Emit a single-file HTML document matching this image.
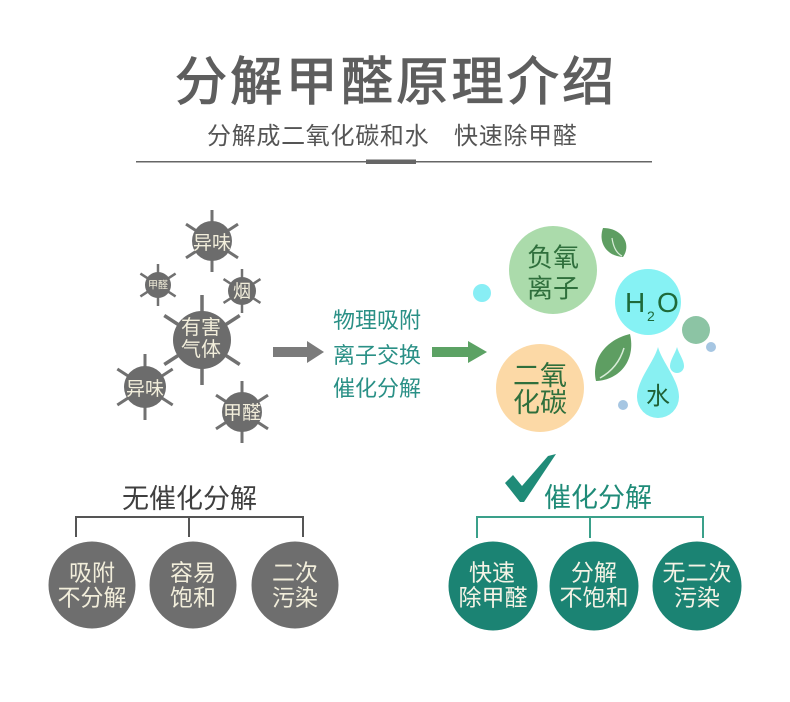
<!DOCTYPE html>
<html><head><meta charset="utf-8">
<style>
html,body{margin:0;padding:0;background:#fff;}
svg{display:block;}
text{font-family:"Liberation Sans","Noto Sans CJK SC",sans-serif;}
</style></head><body>
<svg width="790" height="702" viewBox="0 0 790 702" xmlns="http://www.w3.org/2000/svg">
<rect width="790" height="702" fill="#fff"/>

<!-- Title -->
<text x="175" y="100" font-size="52" fill="#5e5e5e" stroke="#5e5e5e" stroke-width="1.2" letter-spacing="3.3">分解甲醛原理介绍</text>
<text x="207" y="144" font-size="24" fill="#555" letter-spacing="0.7">分解成二氧化碳和水　快速除甲醛</text>
<rect x="136" y="161" width="516" height="1.5" fill="#666"/>
<rect x="366" y="159.5" width="50" height="4.5" fill="#666"/>

<!-- Left cluster: spikes -->
<g stroke="#717171" stroke-linecap="butt">
  <g transform="translate(202,340)" stroke-width="3.5">
    <line x1="0" y1="-45" x2="0" y2="45"/>
    <line x1="0" y1="-45" x2="0" y2="45" transform="rotate(57)"/>
    <line x1="0" y1="-45" x2="0" y2="45" transform="rotate(-57)"/>
  </g>
  <g transform="translate(212,241)" stroke-width="3">
    <line x1="0" y1="-31" x2="0" y2="31"/>
    <line x1="0" y1="-31" x2="0" y2="31" transform="rotate(57)"/>
    <line x1="0" y1="-31" x2="0" y2="31" transform="rotate(-57)"/>
  </g>
  <g transform="translate(158,285)" stroke-width="2.5">
    <line x1="0" y1="-21" x2="0" y2="21"/>
    <line x1="0" y1="-21" x2="0" y2="21" transform="rotate(57)"/>
    <line x1="0" y1="-21" x2="0" y2="21" transform="rotate(-57)"/>
  </g>
  <g transform="translate(242,291)" stroke-width="2.5">
    <line x1="0" y1="-22" x2="0" y2="22"/>
    <line x1="0" y1="-22" x2="0" y2="22" transform="rotate(57)"/>
    <line x1="0" y1="-22" x2="0" y2="22" transform="rotate(-57)"/>
  </g>
  <g transform="translate(145,387)" stroke-width="3">
    <line x1="0" y1="-33" x2="0" y2="33"/>
    <line x1="0" y1="-33" x2="0" y2="33" transform="rotate(57)"/>
    <line x1="0" y1="-33" x2="0" y2="33" transform="rotate(-57)"/>
  </g>
  <g transform="translate(242,412)" stroke-width="3">
    <line x1="0" y1="-31" x2="0" y2="31"/>
    <line x1="0" y1="-31" x2="0" y2="31" transform="rotate(57)"/>
    <line x1="0" y1="-31" x2="0" y2="31" transform="rotate(-57)"/>
  </g>
</g>
<g fill="#6c6c6c">
  <circle cx="202" cy="340" r="29"/>
  <circle cx="212" cy="241" r="20"/>
  <circle cx="158" cy="285" r="13"/>
  <circle cx="242" cy="291" r="14"/>
  <circle cx="145" cy="387" r="21"/>
  <circle cx="242" cy="412" r="20"/>
</g>
<g fill="#f2eedb" text-anchor="middle">
  <text x="201" y="334" font-size="20">有害</text>
  <text x="201" y="356" font-size="20">气体</text>
  <text x="212" y="249" font-size="19">异味</text>
  <text x="158" y="288.6" font-size="10">甲醛</text>
  <text x="242" y="297.5" font-size="18">烟</text>
  <text x="145" y="395" font-size="19">异味</text>
  <text x="242" y="419" font-size="19">甲醛</text>
</g>

<!-- Arrows -->
<rect x="273" y="347" width="36" height="10" fill="#7b7b7b"/>
<polygon points="307,341 324,352 307,363" fill="#7b7b7b"/>
<rect x="432" y="347" width="38" height="10" fill="#5ca264"/>
<polygon points="468,341 487,352 468,363" fill="#5ca264"/>

<!-- Middle text -->
<g fill="#2a9086" font-size="22" text-anchor="middle">
  <text x="377" y="328">物理吸附</text>
  <text x="377" y="363">离子交换</text>
  <text x="377" y="396">催化分解</text>
</g>

<!-- Right cluster -->
<circle cx="482" cy="293" r="9" fill="#88eef5"/>
<circle cx="553" cy="270" r="44" fill="#abdbab"/>
<circle cx="540" cy="388" r="44" fill="#fcd9a6"/>
<circle cx="648" cy="302" r="33" fill="#86f2f4"/>
<circle cx="696" cy="330" r="14" fill="#8cc4a4"/>
<circle cx="711" cy="347" r="5" fill="#a6c6e2"/>
<circle cx="623" cy="405" r="5" fill="#a6c6e2"/>

<!-- leaves -->
<path d="M603,228 C622,228 632,244 623,257 C606,256 598,242 603,228 Z" fill="#5e9e62"/>
<path d="M612,238 Q614,252 622,256" fill="none" stroke="#d8ecd8" stroke-width="1.2"/>
<path d="M630,334 C636,360 620,380 596,381 C591,360 605,340 630,334 Z" fill="#5e9e62"/>
<path d="M600,378 Q618,368 624,348" fill="none" stroke="#d8ecd8" stroke-width="1.5"/>

<!-- drops -->
<path d="M658,347 C662,362 679,380 679,397 A21,21 0 0 1 637,397 C637,380 654,362 658,347 Z" fill="#88f0f2"/>
<path d="M677,347 C679,354 684,360 684,366 A7,7 0 0 1 670,366 C670,360 675,354 677,347 Z" fill="#88f0f2"/>

<g fill="#2f6f3c" text-anchor="middle">
  <text x="553" y="266.5" font-size="26">负氧</text>
  <text x="553" y="297.5" font-size="26">离子</text>
  <text x="540" y="385" font-size="27">二氧</text>
  <text x="540" y="412" font-size="27">化碳</text>
</g>
<g fill="#1e6a3a">
  <text x="625" y="312" font-size="28">H</text>
  <text x="647" y="321" font-size="14">2</text>
  <text x="657" y="312" font-size="28">O</text>
  <text x="658" y="404" font-size="24" text-anchor="middle" fill="#1f5f34">水</text>
</g>

<!-- Bottom left -->
<text x="189.5" y="508" font-size="27" fill="#3f3f3f" text-anchor="middle">无催化分解</text>
<path d="M76,537 V517 H303 V537 M189,517 V537" fill="none" stroke="#555" stroke-width="2"/>
<g fill="#6e6e6e">
  <circle cx="92" cy="585" r="43.5"/>
  <circle cx="193" cy="585" r="43.5"/>
  <circle cx="295" cy="585" r="43.5"/>
</g>
<g fill="#f2eedb" font-size="23" text-anchor="middle">
  <text x="92" y="580.5">吸附</text>
  <text x="92" y="605.5">不分解</text>
  <text x="193" y="580.5">容易</text>
  <text x="193" y="605.5">饱和</text>
  <text x="295" y="580.5">二次</text>
  <text x="295" y="605.5">污染</text>
</g>

<!-- Bottom right -->
<polygon points="505,483 513,475 522,486 548,456 556,454 524,502 520,502" fill="#1f8b78"/>
<text x="598" y="507" font-size="27" fill="#1f8b78" text-anchor="middle">催化分解</text>
<path d="M477,538 V517 H703 V538 M590,517 V538" fill="none" stroke="#3aa08a" stroke-width="2"/>
<g fill="#1b8373">
  <circle cx="493" cy="586" r="44.5"/>
  <circle cx="594" cy="586" r="44.5"/>
  <circle cx="697" cy="586" r="44.5"/>
</g>
<g fill="#f5f3e6" font-size="23" text-anchor="middle">
  <text x="492" y="580.5">快速</text>
  <text x="493" y="605.5">除甲醛</text>
  <text x="594" y="580.5">分解</text>
  <text x="594" y="605.5">不饱和</text>
  <text x="697" y="580.5">无二次</text>
  <text x="697" y="605.5">污染</text>
</g>
</svg>
</body></html>
